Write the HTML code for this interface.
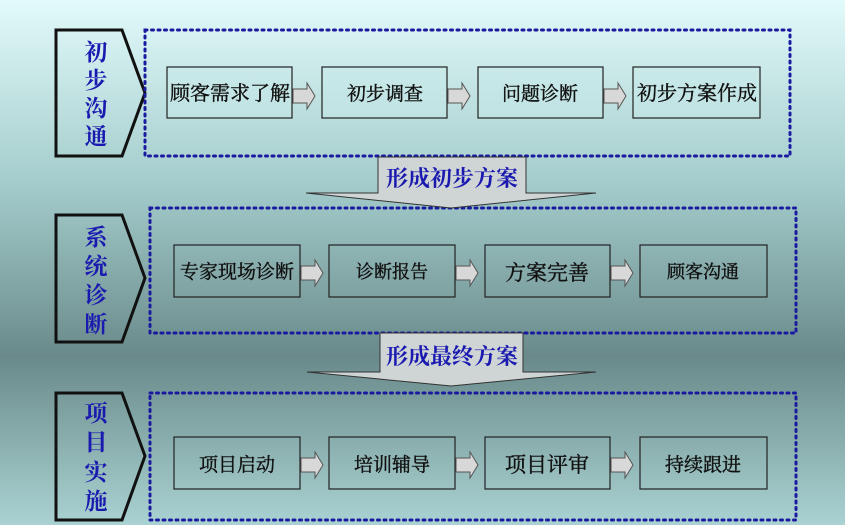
<!DOCTYPE html>
<html><head><meta charset="utf-8"><style>
html,body{margin:0;padding:0;width:845px;height:525px;overflow:hidden}
svg{display:block}
text{font-family:"Liberation Serif","Noto Serif CJK SC","Noto Sans CJK SC",serif}
</style></head><body>
<svg width="845" height="525" viewBox="0 0 845 525" xmlns="http://www.w3.org/2000/svg">
<defs>
<linearGradient id="bg" x1="0" y1="0" x2="0" y2="1">
<stop offset="0" stop-color="#e2fafa"/>
<stop offset="0.35" stop-color="#a4cccc"/>
<stop offset="0.68" stop-color="#6a8a8a"/>
<stop offset="1" stop-color="#aad2d2"/>
</linearGradient>
<g id="arr"><path d="M0,-7 H14 V-13 L22,0 L14,13 V7 H0 Z" fill="#d8d8d8" stroke="#555" stroke-width="1"/></g>
</defs>
<rect width="845" height="525" fill="url(#bg)"/>

<g fill="none" stroke="#111" stroke-width="3">
<path d="M56,30 H122 L145,93 L122,156 H56 Z"/>
<path d="M56,215 H122 L145,278 L122,342 H56 Z"/>
<path d="M56,393 H122 L145,456 L122,520 H56 Z"/>
</g>
<g fill="#1a1ab0" font-size="23" font-weight="bold" text-anchor="middle">
<text x="96" y="60">初</text><text x="96" y="88">步</text><text x="96" y="116">沟</text><text x="96" y="144">通</text>
<text x="96" y="245">系</text><text x="96" y="274">统</text><text x="96" y="303">诊</text><text x="96" y="332">断</text>
<text x="96" y="421">项</text><text x="96" y="450">目</text><text x="96" y="480">实</text><text x="96" y="509">施</text>
</g>

<g fill="none" stroke="#1a1aa0" stroke-width="3" stroke-dasharray="2 4.5" stroke-linecap="round">
<rect x="145" y="30" width="645" height="126"/>
<rect x="150" y="208" width="646" height="125"/>
<rect x="150" y="393" width="646" height="127"/>
</g>

<g fill="#cfd4d4" stroke="#333" stroke-width="1">
<path d="M378,157 H526 V193 H596 L451,208 L306,193 H378 Z"/>
<path d="M380,333 H523 V372 H596 L451,386 L307,372 H380 Z"/>
</g>
<g fill="#1a1ab0" font-size="22" font-weight="bold" text-anchor="middle">
<text x="452" y="186">形成初步方案</text>
<text x="452" y="364">形成最终方案</text>
</g>

<g fill="none" stroke="#222" stroke-width="1.2">
<rect x="167" y="67" width="125" height="51" fill="#c8ecec" fill-opacity="0.4"/>
<rect x="322" y="67" width="125" height="51" fill="#c8ecec" fill-opacity="0.4"/>
<rect x="478" y="67" width="125" height="51" fill="#c8ecec" fill-opacity="0.4"/>
<rect x="633" y="67" width="127" height="51" fill="#c8ecec" fill-opacity="0.4"/>
<rect x="174" y="245" width="126" height="52"/>
<rect x="329" y="245" width="126" height="52"/>
<rect x="485" y="245" width="125" height="52"/>
<rect x="640" y="245" width="127" height="52"/>
<rect x="174" y="437" width="126" height="52"/>
<rect x="329" y="437" width="126" height="52"/>
<rect x="485" y="437" width="125" height="52"/>
<rect x="640" y="437" width="127" height="52"/>
</g>
<use href="#arr" x="293" y="96"/><use href="#arr" x="448" y="96"/><use href="#arr" x="604" y="96"/>
<use href="#arr" x="301" y="273"/><use href="#arr" x="456" y="273"/><use href="#arr" x="611" y="273"/>
<use href="#arr" x="301" y="465"/><use href="#arr" x="456" y="465"/><use href="#arr" x="611" y="465"/>
<g fill="#111" stroke="#111" stroke-width="0.4" font-size="19" text-anchor="middle">
<text x="230" y="100" font-size="20">顾客需求了解</text>
<text x="385" y="100">初步调查</text>
<text x="540" y="100">问题诊断</text>
<text x="697" y="100" font-size="20">初步方案作成</text>
<text x="237" y="278" font-size="19">专家现场诊断</text>
<text x="392" y="278" font-size="18">诊断报告</text>
<text x="547" y="280" font-size="21">方案完善</text>
<text x="703" y="278" font-size="18">顾客沟通</text>
<text x="237" y="471">项目启动</text>
<text x="392" y="471">培训辅导</text>
<text x="547" y="472" font-size="21">项目评审</text>
<text x="703" y="471">持续跟进</text>
</g>
</svg>
</body></html>
